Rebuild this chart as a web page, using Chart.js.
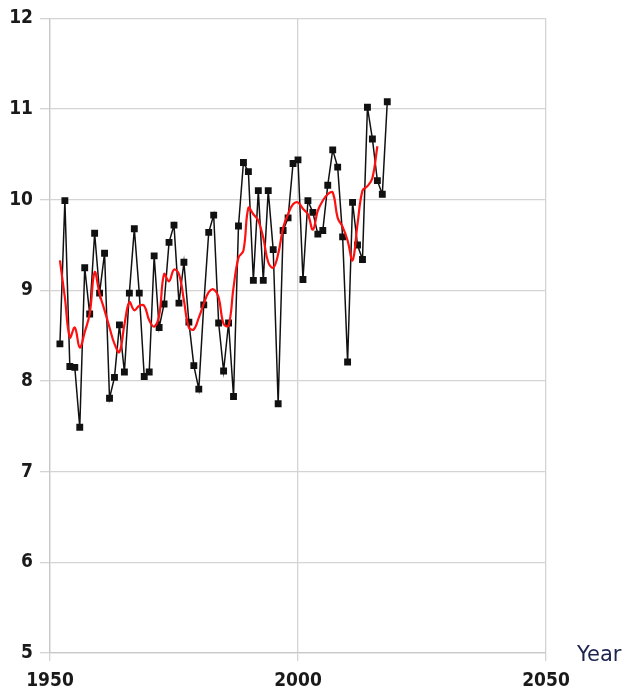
<!DOCTYPE html>
<html>
<head>
<meta charset="utf-8">
<script src="https://cdn.jsdelivr.net/npm/chart.js@4"></script>
<style>
  body { margin: 0; background: #fff; }
  #wrap { position: relative; width: 629px; height: 691px; }
  #yearLabel {
    position: absolute; left: 577px; top: 642px;
    font-family: "DejaVu Sans", sans-serif; font-size: 21px; color: #1c2450;
  }
</style>
</head>
<body>
<div id="wrap">
  <canvas id="tempChart" width="629" height="691"></canvas>
  <div id="yearLabel">Year</div>
</div>
<script>
// yearly values (1952-2018)
const years = [];
for (let y = 1952; y <= 2018; y++) years.push(y);

const yearly = [
    8.41, 9.99, 8.16, 8.15, 7.49, 9.25, 8.74, 9.63, 8.97, 9.41,
    7.81, 8.04, 8.62, 8.10, 8.97, 9.68, 8.97, 8.05, 8.10, 9.38,
    8.59, 8.85, 9.53, 9.72, 8.86, 9.31, 8.65, 8.17, 7.91, 8.84,
    9.64, 9.83, 8.64, 8.11, 8.64, 7.83, 9.71, 10.41, 10.31, 9.11,
    10.10, 9.11, 10.10, 9.45, 7.75, 9.66, 9.80, 10.40, 10.44, 9.12,
    9.99, 9.86, 9.62, 9.66, 10.16, 10.55, 10.36, 9.59, 8.21, 9.97,
    9.50, 9.34, 11.02, 10.67, 10.21, 10.06, 11.08
];

// smoothed curve (1952-2016)
const smoothed = [
    9.33, 8.92, 8.48, 8.59, 8.37, 8.54, 8.74, 9.20, 8.96, 8.78,
    8.59, 8.41, 8.32, 8.62, 8.87, 8.78, 8.83, 8.83, 8.67, 8.60,
    8.72, 9.18, 9.10, 9.23, 9.18, 8.89, 8.59, 8.57, 8.70, 8.85,
    8.98, 9.01, 8.92, 8.63, 8.61, 9.03, 9.36, 9.44, 9.91, 9.84,
    9.77, 9.58, 9.31, 9.25, 9.40, 9.69, 9.84, 9.95, 9.97, 9.90,
    9.84, 9.67, 9.88, 9.99, 10.06, 10.08, 9.80, 9.70, 9.55, 9.33,
    9.73, 10.10, 10.15, 10.24, 10.59
];

const xTicks = [1950, 2000, 2050];
const yTicks = [5, 6, 7, 8, 9, 10, 11, 12];

const tickFont = { family: '"Liberation Sans Narrow", "DejaVu Sans Condensed", sans-serif', size: 19, weight: 'bold' };

const ctx = document.getElementById('tempChart').getContext('2d');
const tempChart = new Chart(ctx, {
    type: 'line',
    data: {
        datasets: [{
            label: 'Yearly',
            data: yearly.map((v, i) => ({ x: years[i], y: v })),
            borderColor: '#111',
            backgroundColor: '#111',
            borderWidth: 1.5,
            pointStyle: 'rect',
            pointRadius: 3.8,
            pointHoverRadius: 3.8,
            tension: 0,
            fill: false,
            order: 2
        }, {
            label: 'Smoothed',
            data: smoothed.map((v, i) => ({ x: years[i], y: v })),
            borderColor: '#ff1010',
            borderWidth: 2.2,
            pointRadius: 0,
            tension: 0.4,
            fill: false,
            order: 1
        }]
    },
    options: {
        responsive: false,
        animation: false,
        layout: { padding: { left: 10, right: 83, top: 17, bottom: 2 } },
        plugins: { legend: { display: false }, tooltip: { enabled: false } },
        scales: {
            x: {
                type: 'linear',
                min: 1950,
                max: 2050,
                afterBuildTicks: (axis) => { axis.ticks = xTicks.map(v => ({ value: v })); },
                afterFit: (axis) => { axis.height = 36; },
                grid: { color: '#d4d4d4', lineWidth: 1.3, tickLength: 8 },
                border: { color: '#c8c8c8', width: 1.3 },
                ticks: {
                    color: '#1a1a1a', font: tickFont, padding: 9, maxRotation: 0,
                    callback: (v) => String(v)
                }
            },
            y: {
                min: 5,
                max: 12,
                afterBuildTicks: (axis) => { axis.ticks = yTicks.map(v => ({ value: v })); },
                afterFit: (axis) => { axis.width = 40; },
                grid: { color: '#d4d4d4', lineWidth: 1.3, tickLength: 10 },
                border: { color: '#c8c8c8', width: 1.3 },
                ticks: { color: '#1a1a1a', font: tickFont, padding: 7, callback: (v) => String(v) }
            }
        }
    }
});
</script>
</body>
</html>
